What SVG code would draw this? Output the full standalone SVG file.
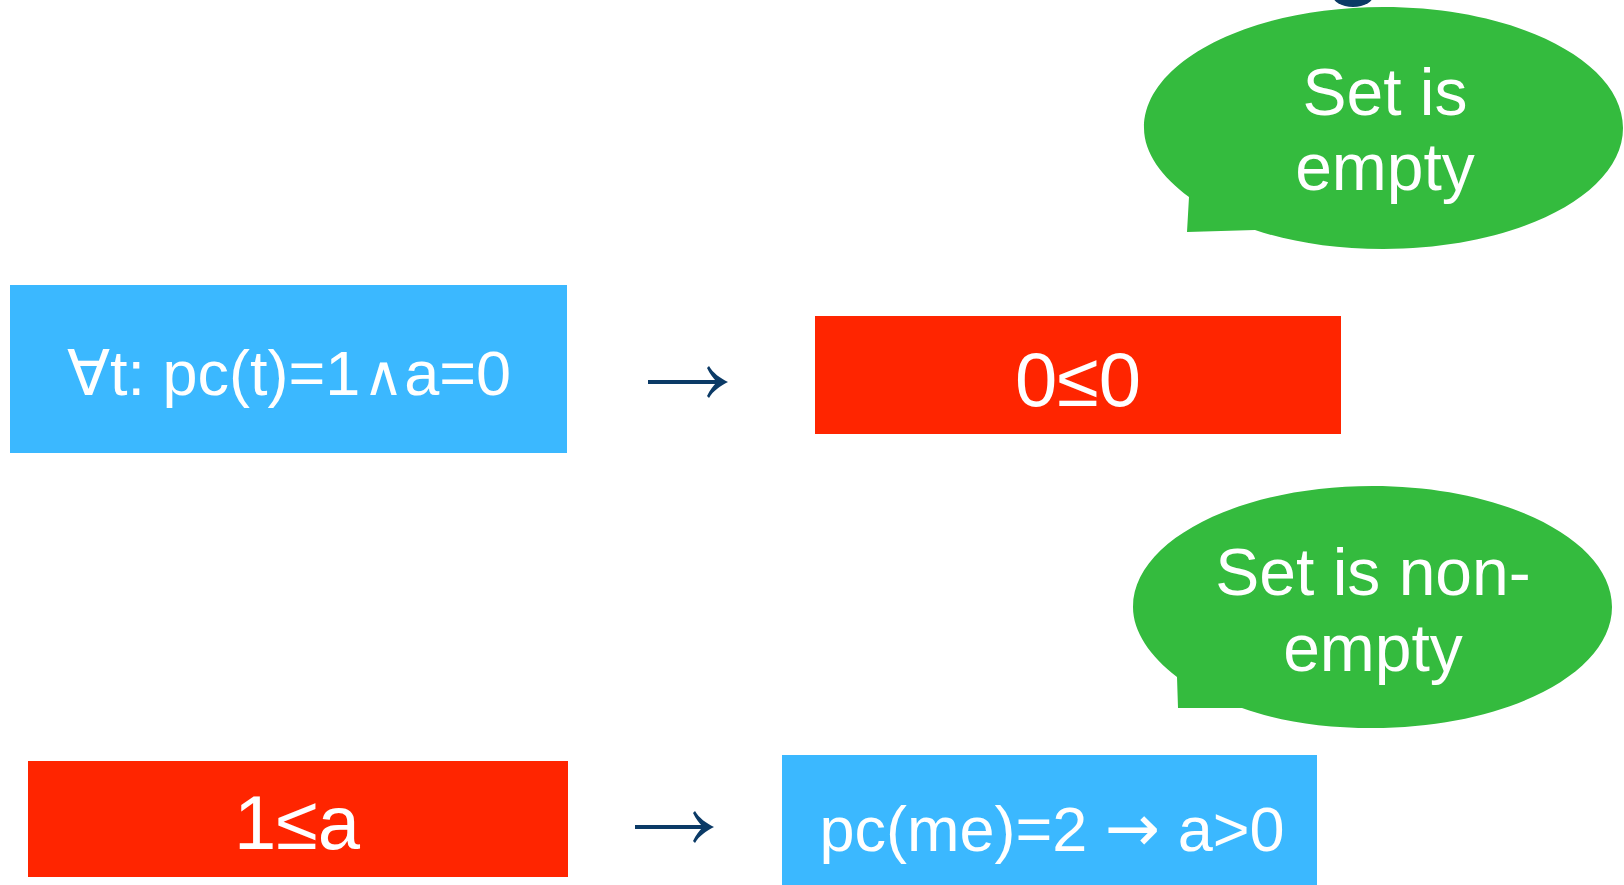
<svg xmlns="http://www.w3.org/2000/svg" width="1624" height="885" viewBox="0 0 1624 885">
<style>
.blue{fill:#3bb8ff}
.red{fill:#ff2500}
.green{fill:#34bb3e}
.t{font-family:"Liberation Sans",Arial,sans-serif;fill:#fff;text-anchor:middle}
.sym{font-family:"DejaVu Sans",sans-serif}
.shaft{stroke:#0b3a66;stroke-width:4;fill:none}
.head{fill:#0b3a66}
</style>
<rect width="1624" height="885" fill="#fff"/>
<ellipse cx="1353" cy="-6" rx="21" ry="13" fill="#0b3a66"/>
<g id="bubble-empty">
<path class="green" d="M1189,197 C1162,177 1144,153 1144,128 C1144,61 1251,7 1383.5,7 C1516,7 1623,61 1623,128 C1623,195 1516,249 1383.5,249 C1333,249 1291,242 1255,230 L1187,232 Z"/>
<text class="t" x="1385" y="115" font-size="66">Set is</text>
<text class="t" x="1385" y="190" font-size="66">empty</text>
</g>
<g id="bubble-nonempty">
<path class="green" d="M1177,677 C1150,656 1133,632 1133,607 C1133,540 1240,486 1372.5,486 C1505,486 1612,540 1612,607 C1612,674 1505,728 1372.5,728 C1322,728 1279,721 1242,708 L1178,708 Z"/>
<text class="t" x="1373" y="595" font-size="66">Set is non-</text>
<text class="t" x="1373" y="671" font-size="66">empty</text>
</g>
<g id="node-forall">
<rect class="blue" x="10" y="285" width="557" height="168"/>
<text class="t" x="289" y="395" font-size="63">∀t: pc(t)=1<tspan font-size="56" dx="3">∧</tspan>a=0</text>
</g>
<g id="node-0le0">
<rect class="red" x="815" y="316" width="526" height="118"/>
<text class="t" x="1078" y="406" font-size="76">0≤0</text>
</g>
<g id="node-1lea">
<rect class="red" x="28" y="761" width="540" height="116"/>
<text class="t" x="297" y="849" font-size="76">1≤a</text>
</g>
<g id="node-pcme">
<rect class="blue" x="782" y="755" width="535" height="130"/>
<text class="t" x="1052" y="851" font-size="63">pc(me)=2 <tspan class="sym" font-size="66">→</tspan> a&gt;0</text>
</g>
<g id="connectors">
<line class="shaft" x1="648" y1="382" x2="718" y2="382"/>
<path class="head" d="M728,382 C720,386 713,391 709,398 L707,396 C710,390 713,386 717,382 C713,378 710,374 707,368 L709,366 C713,373 720,378 728,382 Z"/>
<line class="shaft" x1="635" y1="827" x2="704" y2="827"/>
<path class="head" d="M714,827 C706,831 699,836 695,843 L693,841 C696,835 699,831 703,827 C699,823 696,819 693,813 L695,811 C699,818 706,823 714,827 Z"/>
</g>
</svg>
